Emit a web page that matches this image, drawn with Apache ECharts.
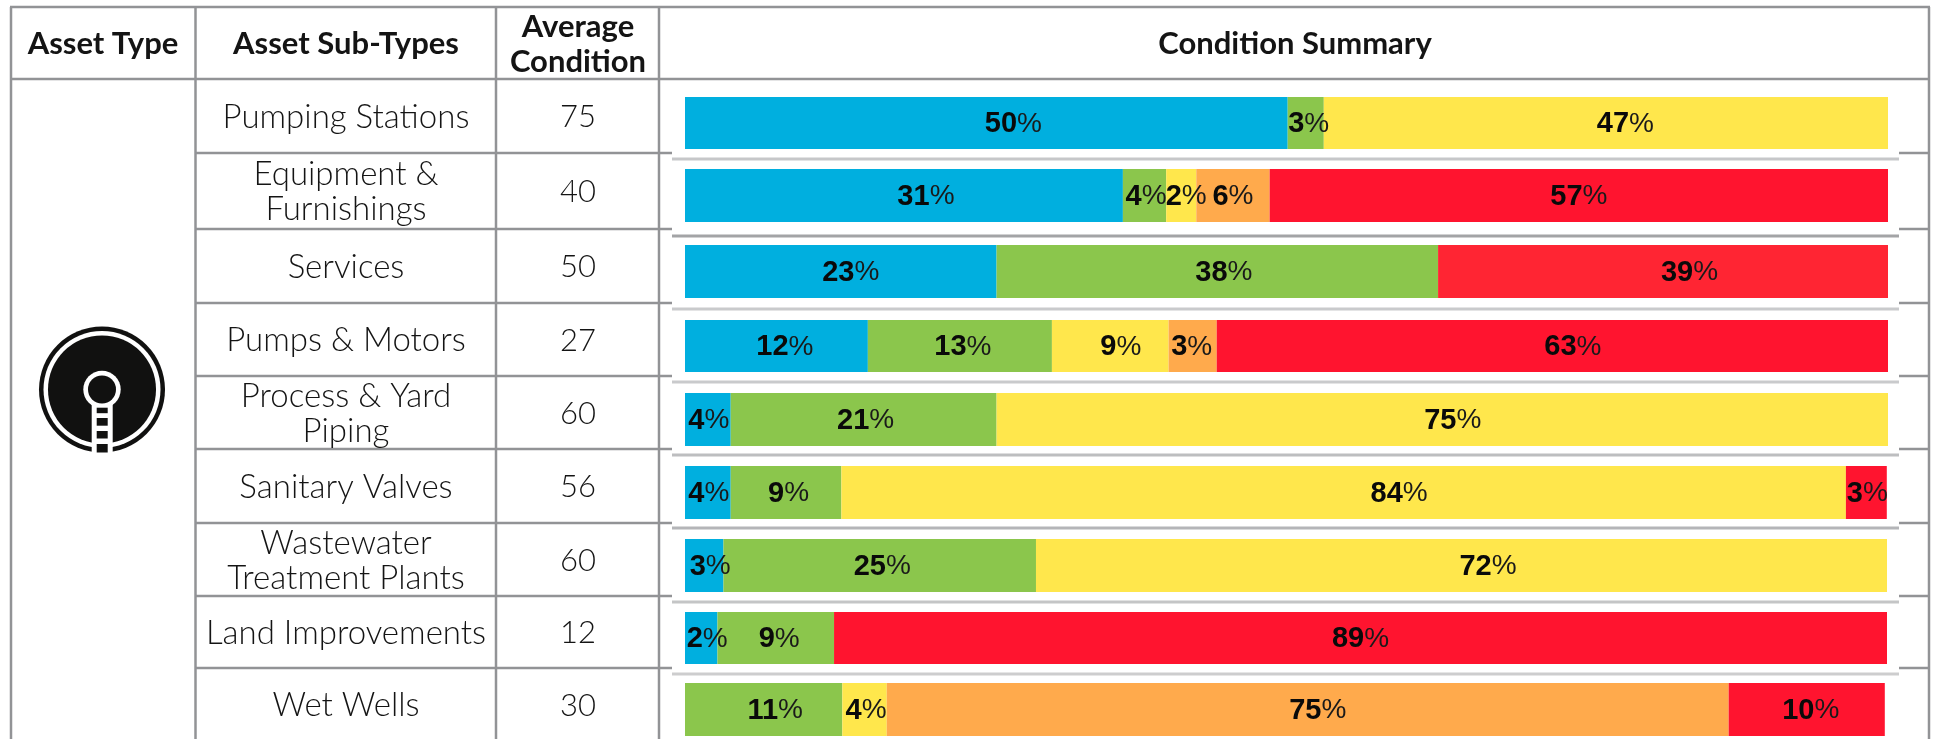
<!DOCTYPE html>
<html><head><meta charset="utf-8">
<style>html,body{margin:0;padding:0;background:#fff}#c{width:1933px;height:739px}</style>
<script src="https://cdn.jsdelivr.net/npm/echarts@6/dist/echarts.min.js"></script>
</head><body><div id="c"></div>
<script>
// ---- data ----
const headers = ['Asset Type','Asset Sub-Types','Average\nCondition','Condition Summary'];
const subTypes = ['Pumping Stations','Equipment &\nFurnishings','Services','Pumps & Motors','Process & Yard\nPiping','Sanitary Valves','Wastewater\nTreatment Plants','Land Improvements','Wet Wells'];
const averageCondition = [75,40,50,27,60,56,60,12,30];
// drawn bar lengths (share of the bar)
const blueDrawn   = [50.1,36.4,25.9,15.2,3.8,3.8,3.2,2.7,null];
const greenDrawn  = [3.0,3.6,36.7,15.3,22.1,9.2,26.0,9.7,13.1];
const yellowDrawn = [46.9,2.5,null,9.7,74.1,83.5,70.8,null,3.7];
const orangeDrawn = [null,6.1,null,4.0,null,null,null,null,70.1];
const redDrawn    = [null,51.4,37.4,55.8,null,3.4,null,87.6,13.0];
// percentages printed on the bars
const blueLabel   = [50,31,23,12,4,4,3,2,null];
const greenLabel  = [3,4,38,13,21,9,25,9,11];
const yellowLabel = [47,2,null,9,75,84,72,null,4];
const orangeLabel = [null,6,null,3,null,null,null,null,75];
const redLabel    = [null,57,39,63,null,3,null,89,10];

// ---- layout & style ----
const FONT = 'Lato';
const LINE = '#929396';
const colLines = [11,195.5,496,659,1929];
const rowLines = [79,153,229,303,376,449,523,596,668,741];
const barTop    = [97,169,245,320,393,466,539,612,683];
const barBottom = [149,222,298,372,446,519,592,664,736];
const barRight  = [1888,1888,1888,1888,1888,1888,1887,1887,1886];
const sepY = [159,236,309,382,455,528,602,674];
const sepColor = ['#c6c7c9','#a3a4a6','#c9cacc','#c9cacc','#bdbec0','#b4b5b8','#c4c5c6','#cdcdce'];
const labelNudge = [
  [27,22,10,8.5,1,1,6,6,0],
  [3,1.5,6.5,3,2,2.5,2.5,3.5,11.5],
  [19.5,5,0,10.5,10.5,55.5,26.5,0,1.5],
  [0,0,0,-1,0,0,0,0,10],
  [0,0,26.5,20.5,0,1,0,0,4]
];
const conditions = [
  {name:'blue',color:'#00afdf',drawn:blueDrawn,label:blueLabel},
  {name:'green',color:'#8bc64c',drawn:greenDrawn,label:greenLabel},
  {name:'yellow',color:'#ffe74c',drawn:yellowDrawn,label:yellowLabel},
  {name:'orange',color:'#ffaa4c',drawn:orangeDrawn,label:orangeLabel},
  {name:'red',color:'#ff142f',drawn:redDrawn,label:redLabel}
];
const servicesRed = '#ff2533';

const grids=[],xAxes=[],yAxes=[],series=[];
subTypes.forEach((s,r)=>{
  grids.push({left:685,top:barTop[r],width:barRight[r]-685,height:barBottom[r]-barTop[r]});
  xAxes.push({type:'value',gridIndex:r,min:0,max:100,show:false});
  yAxes.push({type:'category',gridIndex:r,data:[s.replace('\n',' ')],show:false});
  conditions.forEach((c,ci)=>{
    if(c.drawn[r]==null) return;
    series.push({
      type:'bar',name:c.name,xAxisIndex:r,yAxisIndex:r,stack:'row'+r,
      barWidth:'100%',silent:true,
      itemStyle:{color:(r===2&&c.name==='red')?servicesRed:c.color},
      label:{show:true,position:'inside',offset:[labelNudge[ci][r],1],
        formatter:'{d|'+c.label[r]+'}{p|%}',
        rich:{
          d:{fontFamily:'Liberation Sans',fontWeight:'bold',fontSize:29,color:'#0a0a0a'},
          p:{fontFamily:'Liberation Sans',fontWeight:'normal',fontSize:28,color:'#1a1a1a'}
        }},
      data:[c.drawn[r]]
    });
  });
});

const g=[];
const ln=(x1,y1,x2,y2,color,w)=>g.push({type:'line',silent:true,z:1,shape:{x1,y1,x2,y2},style:{stroke:color,lineWidth:w}});
// outer & column lines
colLines.forEach(x=>ln(x,7,x,739,LINE,2.5));
ln(10,7,1930,7,LINE,2.5);
ln(10,79,1930,79,LINE,2.5);
// row rules: table cells, then stubs either side of the bar panel
rowLines.slice(1,-1).forEach(y=>{ ln(195.5,y,672,y,LINE,2.5); ln(1899,y,1929,y,LINE,2.5); });
sepY.forEach((y,i)=>ln(672,y,1899,y,sepColor[i],3.2));

const txt=(t,x,y,size,weight,lh)=>g.push({type:'text',silent:true,z:5,style:{text:t,x,y,align:'center',verticalAlign:'middle',
  fontFamily:FONT,fontSize:size,fontWeight:weight,fill:'#141414',lineHeight:lh||35}});
txt(headers[0],103,44,31,'bold');
txt(headers[1],346,44,31,'bold');
txt(headers[2],578,44,31,'bold',35);
txt(headers[3],1295,44,31,'bold');
subTypes.forEach((s,r)=>{
  const mid=(rowLines[r]+rowLines[r+1])/2+1;
  txt(s,346,mid,33,300,35);
  txt(String(averageCondition[r]),578,mid,31,300);
});

// asset-type icon
const ICX=102,ICY=389.5,INK='#111110';
const circ=(r,fill,cy)=>g.push({type:'circle',silent:true,z:4,shape:{cx:ICX,cy:cy||ICY,r},style:{fill}});
const rect=(x,y,w,h,fill)=>g.push({type:'rect',silent:true,z:4,shape:{x,y,width:w,height:h},style:{fill}});
circ(63,INK);circ(58.5,'#fff');circ(54,INK);
rect(91.7,400,21,56,'#fff');
circ(18.7,'#fff');circ(14,INK);
[[407.7,5.5],[418,7.7],[431,7.5],[444,8.5]].forEach(b=>rect(96.7,b[0],11,b[1],INK));

const chart=echarts.init(document.getElementById('c'),null,{renderer:'canvas'});
chart.setOption({animation:false,backgroundColor:'#fff',grid:grids,xAxis:xAxes,yAxis:yAxes,series,graphic:{elements:g}});
</script></body></html>
